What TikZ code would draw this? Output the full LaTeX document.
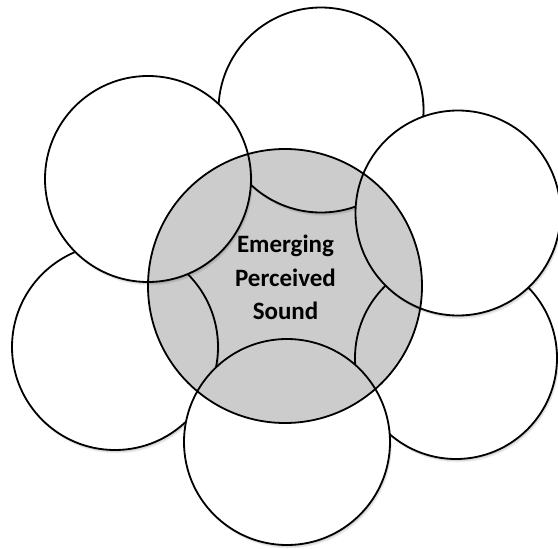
\documentclass[tikz,border=0pt]{standalone}
\usepackage{fontspec}
\setmainfont{Carlito}
\definecolor{midgray}{gray}{0.8}
\begin{document}
\begin{tikzpicture}[x=1pt,y=-1pt,
  ring/.style={line width=1.8pt, draw=black},
  lbl/.style={anchor=base, inner sep=0pt, font=\fontsize{25}{30}\selectfont\bfseries},
  shade/.style={fill=black, opacity=0.07}
]
\useasboundingbox (0,0) rectangle (558,549);
\fill[white] (0,0) rectangle (558,549);
\def\CX{285}\def\CY{286}\def\CR{137}
\coordinate (ctr) at (\CX,\CY);
% centre fill
\fill[midgray] (ctr) circle (\CR);
% outer circles, in stacking order
\foreach \x/\y/\r in {321/110/102.5, 115/347/103, 456/358/101, 148/179/103, 458/213/102.5, 287/442/103} {
  \foreach \s in {1,2,3} \fill[shade] (\x+0.6*\s,\y+1.1*\s) circle (\r);
  \fill[white] (\x,\y) circle (\r);
  \begin{scope}
    \clip (ctr) circle (\CR);
    \fill[midgray] (\x,\y) circle (\r);
  \end{scope}
  \draw[ring] (\x,\y) circle (\r);
}
\draw[ring] (ctr) circle (\CR);
\node[lbl] (t1) at (285.5,252) {Emerging};
\node[lbl] (t2) at (285.5,286) {Perceived};
\node[lbl] (t3) at (285.5,319) {Sound};
\end{tikzpicture}
\end{document}
